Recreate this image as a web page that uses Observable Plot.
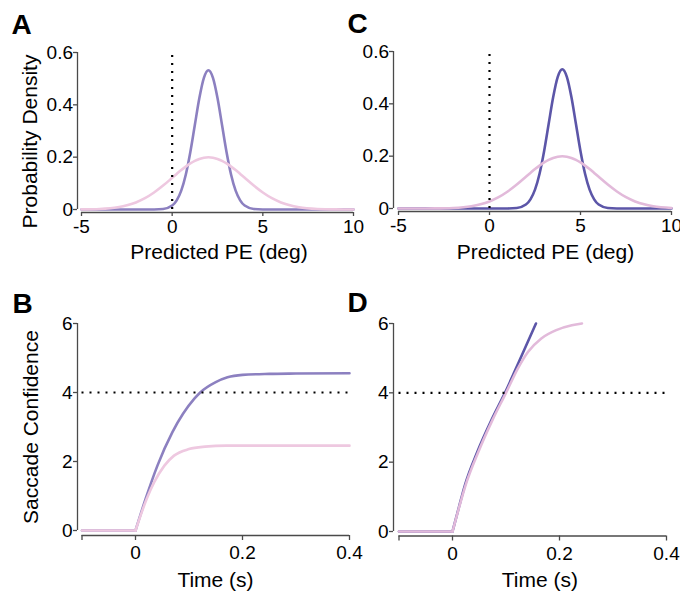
<!DOCTYPE html>
<html><head><meta charset="utf-8">
<script src="https://cdn.jsdelivr.net/npm/d3@7"></script>
<script src="https://cdn.jsdelivr.net/npm/@observablehq/plot@0.6"></script>
<style>
html,body{margin:0;padding:0;background:#fff;}
#wrap{position:relative;width:680px;height:592px;overflow:hidden;background:#fff;}
</style></head><body><div id="wrap"></div>
<script>
// ---------- Panel A: predicted PE densities (mean 2) ----------
const aX      = [-5, -4, -3, -2, -1.5, -1, -0.5, 0, 0.25, 0.5, 0.75, 1, 1.25, 1.5, 1.75, 2, 2.25, 2.5, 2.75, 3, 3.25, 3.5, 3.75, 4, 4.5, 5, 5.5, 6, 7, 8, 9, 10];
const aNarrow = [0, 0, 0, 0, 0, 0.0002, 0.002, 0.015, 0.035, 0.072, 0.133, 0.219, 0.323, 0.426, 0.503, 0.532, 0.503, 0.426, 0.323, 0.219, 0.133, 0.072, 0.035, 0.015, 0.002, 0.0002, 0, 0, 0, 0, 0, 0];
const aBroad  = [0.0004, 0.0022, 0.0088, 0.027, 0.0431, 0.0648, 0.0913, 0.121, 0.136, 0.151, 0.164, 0.176, 0.186, 0.193, 0.198, 0.1995, 0.198, 0.193, 0.186, 0.176, 0.164, 0.151, 0.136, 0.121, 0.0913, 0.0648, 0.0431, 0.027, 0.0088, 0.0022, 0.0004, 0.0001];

// ---------- Panel C: predicted PE densities (mean 4) ----------
const cX      = [-5, -4, -3, -2, -1, -0.5, 0, 0.5, 1, 1.5, 2, 2.25, 2.5, 2.75, 3, 3.25, 3.5, 3.75, 4, 4.25, 4.5, 4.75, 5, 5.25, 5.5, 5.75, 6, 6.5, 7, 7.5, 8, 8.5, 9, 10];
const cNarrow = [0, 0, 0, 0, 0, 0, 0, 0, 0.0002, 0.002, 0.015, 0.035, 0.072, 0.133, 0.219, 0.323, 0.426, 0.503, 0.532, 0.503, 0.426, 0.323, 0.219, 0.133, 0.072, 0.035, 0.015, 0.002, 0.0002, 0, 0, 0, 0, 0];
const cBroad  = [0, 0.0001, 0.0004, 0.0022, 0.0088, 0.0159, 0.027, 0.0431, 0.0648, 0.0913, 0.121, 0.136, 0.151, 0.164, 0.176, 0.186, 0.193, 0.198, 0.1995, 0.198, 0.193, 0.186, 0.176, 0.164, 0.151, 0.136, 0.121, 0.0913, 0.0648, 0.0431, 0.027, 0.0159, 0.0088, 0.0022];

// ---------- Panel B: saccade confidence over time ----------
const flatT  = [-0.1, 0];
const flatV  = [0, 0];
const bHighT = [0, 0.019, 0.041, 0.069, 0.11, 0.121, 0.15, 0.172, 0.2, 0.25, 0.3, 0.4];
const bHighV = [0, 0.92, 1.88, 2.85, 3.82, 4.0, 4.30, 4.44, 4.51, 4.54, 4.55, 4.56];
const bLowT  = [0, 0.021, 0.035, 0.054, 0.072, 0.1, 0.13, 0.17, 0.4];
const bLowV  = [0, 0.92, 1.40, 1.88, 2.17, 2.36, 2.43, 2.46, 2.46];

// ---------- Panel D: saccade confidence over time ----------
const dHighT = [0, 0.012, 0.0233, 0.0465, 0.073, 0.098, 0.13, 0.156];
const dHighV = [0, 0.7, 1.34, 2.30, 3.22, 4.0, 5.1, 6.0];
const dLowT  = [0, 0.012, 0.0245, 0.0484, 0.0748, 0.1, 0.122, 0.141, 0.166, 0.194, 0.223, 0.242];
const dLowV  = [0, 0.68, 1.34, 2.30, 3.22, 4.0, 4.70, 5.18, 5.57, 5.81, 5.95, 6.0];

// ---------- ticks / labels ----------
const peTicks   = [-5, 0, 5, 10];
const densTicks = [0, 0.2, 0.4, 0.6];
const timeTicks = [-0.1, 0, 0.2, 0.4];
const confTicks = [0, 2, 4, 6];
const threshold = 4;
const xLabelPE = "Predicted PE (deg)";
const yLabelPE = "Probability Density";
const xLabelT  = "Time (s)";
const yLabelT  = "Saccade Confidence";

const purpleAB = "#8c80c0", pinkAB = "#eec8e0";
const purpleCD = "#5c56a8", pinkCD = "#e2bada";
const axisCol = "#4a4a4a";
const FONT = "'Liberation Sans', Arial, Helvetica, sans-serif";

const fmtDens = d => d === 0 ? "0" : d.toFixed(1);
const fmtTime = d => d < 0 ? "" : (d === 0 ? "0" : d.toFixed(1));

const wrap = document.getElementById("wrap");
function place(el, left, top) {
  el.style.position = "absolute";
  el.style.left = left + "px";
  el.style.top = top + "px";
  wrap.appendChild(el);
}
const txt = (s, o) => Plot.text([s], {text: d => d, fill: "#000", textAnchor: "middle", lineAnchor: "middle", ...o});

function densPanel(opt) {
  const {X, narrow, broad, purple, pink, m, letter, lab, ylab} = opt;
  const marks = [
    Plot.ruleX([-5], {y1: 0, y2: 0.6, dx: -m.insetLeft, stroke: axisCol, strokeWidth: 1.3}),
    Plot.ruleY([0], {x1: -5, x2: 10, dy: m.insetBottom, stroke: axisCol, strokeWidth: 1.3}),
    Plot.axisY({ticks: densTicks, tickFormat: fmtDens, tickSize: 4, tickPadding: 0.5, stroke: axisCol, strokeWidth: 1.3, fill: "#000", label: null, fontSize: 19}),
    Plot.axisX({ticks: peTicks, tickFormat: d => String(d), tickSize: 4, tickPadding: 3, stroke: axisCol, strokeWidth: 1.3, fill: "#000", label: null, fontSize: 19}),
    Plot.line(X, {x: X, y: narrow, stroke: purple, strokeWidth: 2.6, curve: "monotone-x"}),
    Plot.line(X, {x: X, y: broad, stroke: pink, strokeWidth: 2.6, curve: "monotone-x"}),
    Plot.ruleX([0], {y1: 0, y2: 0.6, stroke: "#000", strokeWidth: 2.2, strokeDasharray: "2,6"}),
    txt(xLabelPE, {frameAnchor: "bottom", dx: lab.dx, dy: lab.dy, fontSize: 21}),
    txt(letter.s, {frameAnchor: "top-left", textAnchor: "start", dx: letter.dx, dy: letter.dy, fontSize: 28, fontWeight: "bold"})
  ];
  if (ylab) marks.push(txt(yLabelPE, {frameAnchor: "left", rotate: -90, dx: ylab.dx, dy: ylab.dy, fontSize: 21}));
  return Plot.plot({
    width: m.width, height: m.height,
    marginLeft: m.left, marginRight: m.right, marginTop: m.top, marginBottom: m.bottom,
    style: {background: "transparent", overflow: "visible", fontFamily: FONT, fontSize: "19px", color: "#000"},
    x: {domain: [-5, 10], insetLeft: m.insetLeft},
    y: {domain: [0, 0.6], insetBottom: m.insetBottom},
    marks
  });
}

function timePanel(opt) {
  const {hiT, hiV, loT, loV, purple, pink, m, letter, lab, ylab} = opt;
  const marks = [
    Plot.ruleX([-0.1], {y1: 0, y2: 6, dx: -m.insetLeft, stroke: axisCol, strokeWidth: 1.3}),
    Plot.ruleY([0], {x1: -0.1, x2: 0.4, dy: m.insetBottom, stroke: axisCol, strokeWidth: 1.3}),
    Plot.axisY({ticks: confTicks, tickFormat: d => String(d), tickSize: 4, tickPadding: 1, stroke: axisCol, strokeWidth: 1.3, fill: "#000", label: null, fontSize: 19}),
    Plot.axisX({ticks: timeTicks, tickFormat: fmtTime, tickSize: 5, tickPadding: 5, stroke: axisCol, strokeWidth: 1.3, fill: "#000", label: null, fontSize: 19}),
    Plot.line(flatT, {x: flatT, y: flatV, stroke: purple, strokeWidth: 2.6}),
    Plot.line(hiT, {x: hiT, y: hiV, stroke: purple, strokeWidth: 2.6, curve: "monotone-x"}),
    Plot.line(flatT, {x: flatT, y: flatV, stroke: pink, strokeWidth: 2.6}),
    Plot.line(loT, {x: loT, y: loV, stroke: pink, strokeWidth: 2.6, curve: "monotone-x"}),
    Plot.ruleY([threshold], {x1: -0.1, x2: 0.4, stroke: "#000", strokeWidth: 2.2, strokeDasharray: "2,6"}),
    txt(xLabelT, {frameAnchor: "bottom", dx: lab.dx, dy: lab.dy, fontSize: 21}),
    txt(letter.s, {frameAnchor: "top-left", textAnchor: "start", dx: letter.dx, dy: letter.dy, fontSize: 28, fontWeight: "bold"})
  ];
  if (ylab) marks.push(txt(yLabelT, {frameAnchor: "left", rotate: -90, dx: ylab.dx, dy: ylab.dy, fontSize: 21}));
  return Plot.plot({
    width: m.width, height: m.height,
    marginLeft: m.left, marginRight: m.right, marginTop: m.top, marginBottom: m.bottom,
    style: {background: "transparent", overflow: "visible", fontFamily: FONT, fontSize: "19px", color: "#000"},
    x: {domain: [-0.1, 0.4], insetLeft: m.insetLeft},
    y: {domain: [0, 6], insetBottom: m.insetBottom},
    marks
  });
}

// Panel A
place(densPanel({
  X: aX, narrow: aNarrow, broad: aBroad, purple: purpleAB, pink: pinkAB,
  m: {width: 380, height: 290, left: 77, right: 27, top: 52, bottom: 78, insetLeft: 4, insetBottom: 3},
  letter: {s: "A", dx: -66, dy: -27},
  lab: {dx: 3.5, dy: 39.3},
  ylab: {dx: -47.7, dy: 9}
}), 0, 0);

// Panel C
place(densPanel({
  X: cX, narrow: cNarrow, broad: cBroad, purple: purpleCD, pink: pinkCD,
  m: {width: 360, height: 290, left: 73, right: 9, top: 51, bottom: 79, insetLeft: 5, insetBottom: 3},
  letter: {s: "C", dx: -46, dy: -27},
  lab: {dx: 13, dy: 40.3},
  ylab: null
}), 320, 0);

// Panel B
place(timePanel({
  hiT: bHighT, hiV: bHighV, loT: bLowT, loV: bLowV, purple: purpleAB, pink: pinkAB,
  m: {width: 380, height: 302, left: 77, right: 31, top: 33, bottom: 57, insetLeft: 4.5, insetBottom: 5},
  letter: {s: "B", dx: -65, dy: -19},
  lab: {dx: 2, dy: 45},
  ylab: {dx: -46.7, dy: -2.5}
}), 0, 290);

// Panel D
place(timePanel({
  hiT: dHighT, hiV: dHighV, loT: dLowT, loV: dLowV, purple: purpleCD, pink: pinkCD,
  m: {width: 360, height: 302, left: 73, right: 14, top: 33, bottom: 56.5, insetLeft: 5.5, insetBottom: 4.5},
  letter: {s: "D", dx: -46, dy: -20},
  lab: {dx: 9.8, dy: 44.5},
  ylab: null
}), 320, 290);
</script></body></html>
